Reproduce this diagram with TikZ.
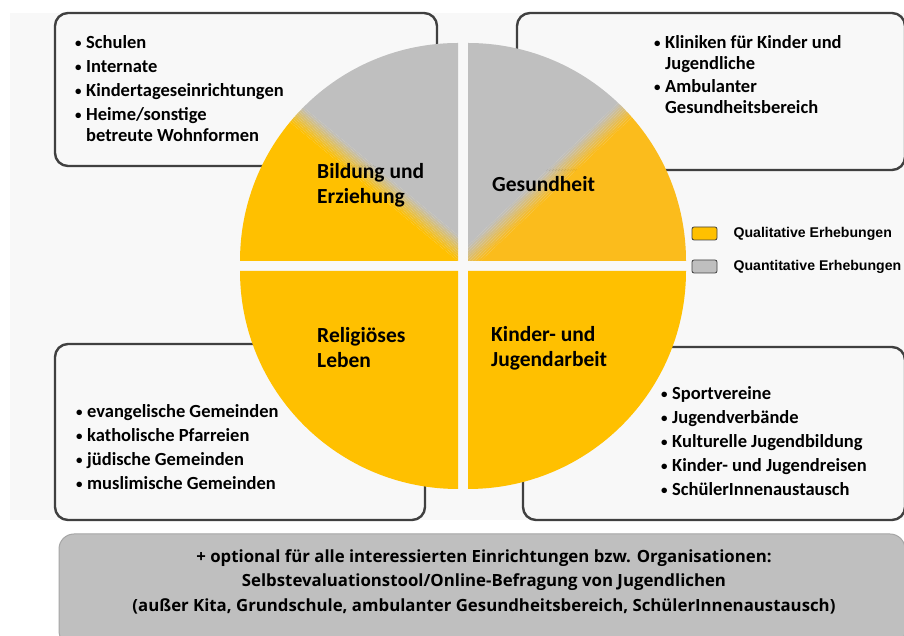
\documentclass[tikz,border=0pt]{standalone}
\usepackage{fontspec}
\setmainfont{Carlito}
\newfontfamily\legendfont{Liberation Sans}
\newfontfamily\notefont{Open Sans}
\usetikzlibrary{positioning}

\definecolor{qual}{HTML}{FFC000}
\definecolor{qualtr}{HTML}{FBBC1C}
\definecolor{quant}{HTML}{BFBFBF}
\definecolor{bgcol}{HTML}{F8F8F8}
\definecolor{framecol}{HTML}{404040}
\definecolor{notecol}{HTML}{A6A6A6}

\newcommand{\bul}{\makebox[11pt][l]{\raisebox{1pt}{\scalebox{0.7}{\textbullet}}}}
\newcommand{\ind}{\hspace*{11pt}}

\tikzset{
    infobox/.style={
        draw=framecol,
        fill=bgcol,
        line width=2.4pt,
        rounded corners=13pt,
    },
    itemlist/.style={
        anchor=north west,
        inner sep=0pt,
        align=left,
        font=\fontsize{18.5}{21}\selectfont\bfseries,
    },
    pielabel/.style={
        anchor=north west,
        inner sep=0pt,
        align=left,
        font=\fontsize{21.5}{25}\selectfont\bfseries,
    },
    legendkey/.style={
        draw=framecol,
        line width=0.8pt,
        rounded corners=2pt,
        minimum width=25pt,
        minimum height=13pt,
        inner sep=0pt,
    },
    legendtext/.style={
        inner sep=0pt,
        font=\legendfont\fontsize{14.1}{16}\selectfont\bfseries,
    },
}

\begin{document}
\begin{tikzpicture}[x=1pt,y=1pt]
    \clip (0,0) rectangle (904,636);
    \fill[white] (0,0) rectangle (904,636);
    \fill[bgcol] (10,116) rectangle (910,623);

    % boxes around the pie
    \draw[infobox] (55,470) rectangle (437,623);
    \draw[infobox] (517,466) rectangle (905,623);
    \draw[infobox] (55,116) rectangle (425,292);
    \draw[infobox] (523,116) rectangle (905,289);

    % pie, upper left quadrant
    \begin{scope}
        \clip (458,375) -- ++(0,218) arc[start angle=90, end angle=180, radius=218] -- cycle;
        \begin{scope}[shift={(378,454)}, rotate=-39.6]
            \fill[qual] (-400,-400) rectangle (400,-10);
            \fill[quant] (-400,10) rectangle (400,400);
            \foreach \i in {0,...,9} {
                \pgfmathtruncatemacro{\pct}{100-10*\i-5}
                \fill[qual!\pct!quant] (-400,-10+2*\i) rectangle (400,-8+2*\i);
            }
        \end{scope}
    \end{scope}

    % pie, upper right quadrant
    \begin{scope}
        \clip (468,375) -- ++(218,0) arc[start angle=0, end angle=90, radius=218] -- cycle;
        \begin{scope}[shift={(545,450)}, rotate=43.5]
            \fill[qualtr] (-400,-400) rectangle (400,-10);
            \fill[quant] (-400,10) rectangle (400,400);
            \foreach \i in {0,...,9} {
                \pgfmathtruncatemacro{\pct}{100-10*\i-5}
                \fill[qualtr!\pct!quant] (-400,-10+2*\i) rectangle (400,-8+2*\i);
            }
        \end{scope}
    \end{scope}

    % pie, lower quadrants
    \fill[qual] (458,365) -- ++(-218,0) arc[start angle=180, end angle=270, radius=218] -- cycle;
    \fill[qual] (468,365) -- ++(0,-218) arc[start angle=270, end angle=360, radius=218] -- cycle;

    % quadrant labels
    \node[pielabel] (bildung) at (317,473) {Bildung und\\Erziehung};
    \node[pielabel] (gesundheit) at (492,460) {Gesundheit};
    \node[pielabel] (religion) at (317,309) {Religiöses\\Leben};
    \node[pielabel] (jugendarbeit) at (491,310) {Kinder- und\\Jugendarbeit};

    % lists in the boxes
    \node[itemlist] (bildungitems) at (75,601) {\bul Schulen\\[3pt]
        \bul Internate\\[3pt]
        \bul Kindertageseinrichtungen\\[3pt]
        \bul Heime/sonstige\\
        \ind betreute Wohnformen};
    \node[itemlist] (gesundheititems) at (654,601) {\bul Kliniken für Kinder und\\
        \ind Jugendliche\\[2pt]
        \bul Ambulanter\\
        \ind Gesundheitsbereich};
    \node[itemlist] (religionitems) at (76,232) {\bul evangelische Gemeinden\\[3pt]
        \bul katholische Pfarreien\\[3pt]
        \bul jüdische Gemeinden\\[3pt]
        \bul muslimische Gemeinden};
    \node[itemlist] (jugendarbeititems) at (661,250) {\bul Sportvereine\\[3pt]
        \bul Jugendverbände\\[3pt]
        \bul Kulturelle Jugendbildung\\[3pt]
        \bul Kinder- und Jugendreisen\\[3pt]
        \bul SchülerInnenaustausch};

    % legend
    \node[legendkey, fill=qual] (qualkey) at (704.5,402.5) {};
    \node[legendkey, fill=quant] (quantkey) at (704.5,369.5) {};
    \node[legendtext, anchor=west, right=16pt of qualkey] (qualtext) {Qualitative Erhebungen};
    \node[legendtext, anchor=west, right=16pt of quantkey] (quanttext) {Quantitative Erhebungen};

    % optional part
    \draw[fill=quant, draw=notecol, line width=1pt, rounded corners=15pt] (59,-10) rectangle (905,102);
    \node[anchor=north, align=center, inner sep=0pt,
        font=\notefont\fontsize{16.8}{24.5}\selectfont\bfseries] (optional) at (484,87)
        {+ optional für alle interessierten Einrichtungen bzw. Organisationen:\\
        Selbstevaluationstool/Online-Befragung von Jugendlichen\\
        (außer Kita, Grundschule, ambulanter Gesundheitsbereich, SchülerInnenaustausch)};
\end{tikzpicture}
\end{document}
